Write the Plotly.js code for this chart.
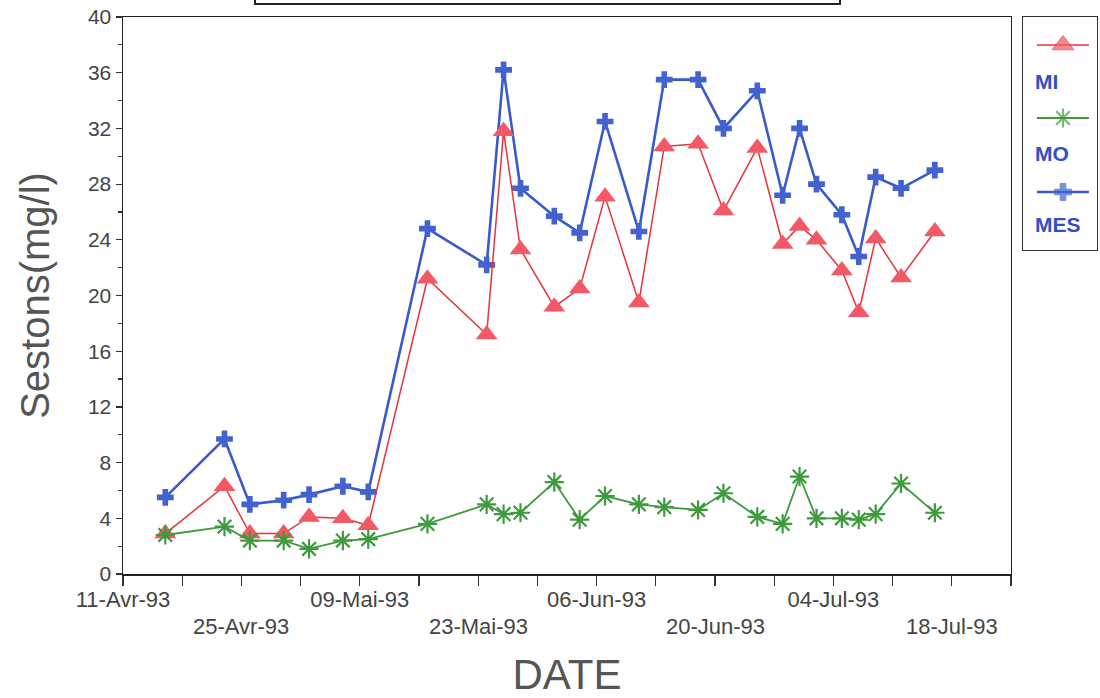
<!DOCTYPE html>
<html>
<head>
<meta charset="utf-8">
<script src="https://cdn.plot.ly/plotly-3.0.1.min.js"></script>
<style>html,body{margin:0;padding:0;background:#fff;}#chart{width:1100px;height:698px;}</style>
</head>
<body>
<div id="chart"></div>
<script>
// Sampling dates
const dates = ['1993-04-16','1993-04-23','1993-04-26','1993-04-30','1993-05-03','1993-05-07','1993-05-10',
  '1993-05-17','1993-05-24','1993-05-26','1993-05-28','1993-06-01','1993-06-04','1993-06-07','1993-06-11',
  '1993-06-14','1993-06-18','1993-06-21','1993-06-25','1993-06-28','1993-06-30','1993-07-02','1993-07-05',
  '1993-07-07','1993-07-09','1993-07-12','1993-07-16'];
// Series (mg/l)
const MI  = [2.9, 6.3, 2.9, 2.9, 4.1, 4.0, 3.5, 21.2, 17.2, 31.8, 23.3, 19.2, 20.5, 27.1, 19.5,
  30.7, 30.9, 26.1, 30.6, 23.7, 25.0, 24.0, 21.8, 18.8, 24.1, 21.3, 24.6];
const MO  = [2.8, 3.4, 2.4, 2.4, 1.8, 2.4, 2.5, 3.6, 5.0, 4.3, 4.4, 6.6, 3.9, 5.6, 5.0,
  4.8, 4.6, 5.8, 4.1, 3.6, 7.0, 4.0, 4.0, 3.9, 4.3, 6.5, 4.4];
const MES = [5.5, 9.7, 5.0, 5.3, 5.7, 6.3, 5.9, 24.8, 22.2, 36.2, 27.7, 25.7, 24.5, 32.5, 24.6,
  35.5, 35.5, 32.0, 34.7, 27.2, 32.0, 28.0, 25.8, 22.8, 28.5, 27.7, 29.0];
// Axis ticks
const weekTicks = ['1993-04-11','1993-04-18','1993-04-25','1993-05-02','1993-05-09','1993-05-16','1993-05-23',
  '1993-05-30','1993-06-06','1993-06-13','1993-06-20','1993-06-27','1993-07-04','1993-07-11','1993-07-18','1993-07-25'];
const row1Vals = ['1993-04-11','1993-05-09','1993-06-06','1993-07-04'];
const row1Text = ['11-Avr-93','09-Mai-93','06-Jun-93','04-Jul-93'];
const row2Vals = ['1993-04-25','1993-05-23','1993-06-20','1993-07-18'];
const row2Text = ['25-Avr-93','23-Mai-93','20-Jun-93','18-Jul-93'];
const seriesNames = ['MI','MO','MES'];

const FONT = 'Liberation Sans, Arial, sans-serif';
const cMI = {line:'#e4343c', marker:'#f25866'};
const cMO = {line:'#3d9a3d', marker:'#3fc63f'};
const cMES = {line:'#3a5acb', marker:'#4262d2'};

const traces = [
  {x:dates, y:MES, name:'MES', mode:'lines+markers', line:{color:cMES.line, width:2.6},
   marker:{symbol:'cross', size:14, color:cMES.marker}},
  {x:dates, y:MI, name:'MI', mode:'lines+markers', line:{color:cMI.line, width:1.5},
   marker:{symbol:'triangle-up', size:19, color:cMI.marker}},
  {x:dates, y:MO, name:'MO', mode:'lines+markers', line:{color:cMO.line, width:1.8},
   marker:{symbol:'asterisk-open', size:16, line:{color:cMO.marker, width:2.2}}}
];

// legend samples (own small axes inside the legend box)
const legX = [14, 40, 66];
const legY = {MI:28, MO:101, MES:175};
const legTextY = {MI:64, MO:136, MES:208};
const legStyle = {
  MI:{line:{color:cMI.line, width:1.5}, marker:{symbol:'triangle-up', size:[0,19,0], color:cMI.marker}},
  MO:{line:{color:cMO.line, width:1.8}, marker:{symbol:'asterisk-open', size:[0,16,0], line:{color:cMO.marker, width:2.2}}},
  MES:{line:{color:cMES.line, width:2.6}, marker:{symbol:'cross', size:[0,14,0], color:cMES.marker}}
};
const annotations = [];
seriesNames.forEach(n => {
  traces.push(Object.assign({x:legX, y:legX.map(()=>legY[n]), xaxis:'x2', yaxis:'y2', mode:'lines+markers',
    showlegend:false, hoverinfo:'skip'}, legStyle[n]));
  annotations.push({xref:'x2', yref:'y2', x:10, y:legTextY[n], text:'<b>'+n+'</b>', showarrow:false,
    xanchor:'left', yanchor:'middle', font:{family:FONT, size:21, color:'#3150c4'}});
});
// second (staggered) row of date labels
row2Vals.forEach((d, i) => {
  annotations.push({xref:'x', yref:'paper', x:d, y:-0.0934, text:row2Text[i], showarrow:false,
    xanchor:'center', yanchor:'middle', font:{family:FONT, size:22, color:'#444'}});
});

const layout = {
  width:1100, height:698,
  margin:{l:123, r:0, t:17, b:124},
  paper_bgcolor:'#fff', plot_bgcolor:'#fff',
  showlegend:false,
  font:{family:FONT, color:'#444'},
  xaxis:{
    type:'date', domain:[0, 0.9089], range:['1993-04-11','1993-07-25'],
    tickmode:'array', tickvals:weekTicks,
    ticktext:weekTicks.map(d => { const i=row1Vals.indexOf(d); return i>=0 ? row1Text[i] : ''; }),
    ticks:'outside', ticklen:10, tickwidth:1.2, tickcolor:'#333', ticklabelstandoff:-5,
    showline:true, mirror:true, linecolor:'#222', linewidth:1.5,
    showgrid:false, zeroline:false,
    tickfont:{family:FONT, size:22, color:'#444'},
    title:{text:'DATE', font:{family:FONT, size:42, color:'#555'}, standoff:50},
    automargin:false
  },
  yaxis:{
    range:[0,40], dtick:4, tick0:0,
    ticks:'outside', ticklen:6, tickwidth:1.2, tickcolor:'#333',
    minor:{dtick:2, ticks:'outside', ticklen:4, tickcolor:'#333', showgrid:false},
    showline:true, mirror:true, linecolor:'#222', linewidth:1.5,
    showgrid:false, zeroline:false,
    tickfont:{family:FONT, size:21, color:'#444'},
    title:{text:'Sestons(mg/l)', font:{family:FONT, size:40, color:'#555'}, standoff:26},
    automargin:true
  },
  xaxis2:{domain:[0.9212, 0.9969], anchor:'y2', range:[0,74], showticklabels:false, ticks:'',
    showgrid:false, zeroline:false, showline:true, mirror:true, linecolor:'#333', linewidth:1.5, fixedrange:true},
  yaxis2:{domain:[0.5817, 1], anchor:'x2', range:[233,0], showticklabels:false, ticks:'',
    showgrid:false, zeroline:false, showline:true, mirror:true, linecolor:'#333', linewidth:1.5, fixedrange:true},
  annotations:annotations,
  shapes:[{type:'rect', xref:'paper', yref:'paper', x0:0.1351, x1:0.7339, y0:1.0233, y1:1.07,
    line:{color:'#222', width:2}}]
};

Plotly.newPlot('chart', traces, layout, {displayModeBar:false, staticPlot:true});
</script>
</body>
</html>
